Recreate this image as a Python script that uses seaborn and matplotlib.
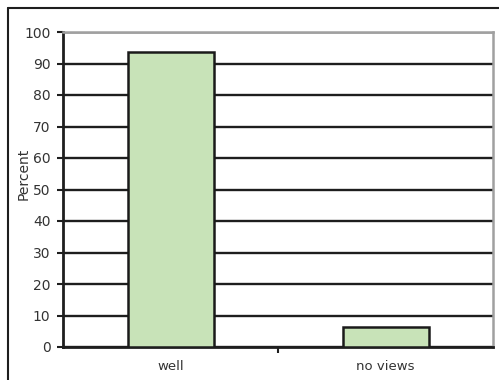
import matplotlib
matplotlib.use("Agg")
import matplotlib.pyplot as plt
from matplotlib.lines import Line2D
import seaborn as sns
import pandas as pd

categories = ["well", "no views"]
percent = [93.5, 6.5]
y_ticks = [0, 10, 20, 30, 40, 50, 60, 70, 80, 90, 100]

sns.set_style("white")
plt.rcParams["font.family"] = ["DejaVu Sans"]

df = pd.DataFrame({"category": categories, "percent": percent})

fig = plt.figure(figsize=(4.99, 3.80), dpi=100)
ax = fig.add_axes([63 / 499, 1 - 347 / 380, 430 / 499, 315 / 380])

sns.barplot(data=df, x="category", y="percent", color="#c8e3b8",
            saturation=1, width=0.40, edgecolor="#1a1a1a", linewidth=1.8,
            ax=ax, zorder=3)

ax.set_xlim(-0.5, 1.5)
ax.set_ylim(0, 100)
ax.set_yticks(y_ticks)
ax.set_yticklabels([str(v) for v in y_ticks])

# horizontal grid in heavy dark lines, top one gray like the frame
ax.set_axisbelow(True)
ax.yaxis.grid(True, color="#1e1e1e", linewidth=1.7)
ax.get_ygridlines()[-1].set_color("#a0a0a0")
ax.get_ygridlines()[-1].set_linewidth(1.8)

# category ticks sit between bars
ax.set_xticks([0.5], minor=False)
ax.set_xticklabels([""])
ax.set_xticks([0, 1], minor=True)
ax.set_xticklabels(categories, minor=True)
ax.tick_params(axis="x", which="minor", length=0, pad=9,
               labelsize=9.5, labelcolor="#333333")
ax.tick_params(axis="x", which="major", direction="out", length=4,
               width=1.5, color="#1e1e1e", bottom=True)
ax.tick_params(axis="y", direction="out", length=4, width=1.5,
               color="#1e1e1e", left=True, pad=5,
               labelsize=10, labelcolor="#333333")

ax.set_xlabel("")
ax.set_ylabel("Percent", fontsize=10, color="#333333")
ax.yaxis.set_label_coords(-0.075, 0.55)

for side in ("left", "bottom"):
    ax.spines[side].set_color("#1e1e1e")
    ax.spines[side].set_linewidth(2.0)
for side in ("top", "right"):
    ax.spines[side].set_visible(True)
    ax.spines[side].set_color("#a0a0a0")
    ax.spines[side].set_linewidth(1.8)

# outer chart frame (top and left edges)
fig.add_artist(Line2D([8 / 499, 1.0], [1 - 8 / 380, 1 - 8 / 380],
                      transform=fig.transFigure, color="#1e1e1e", linewidth=1.5))
fig.add_artist(Line2D([8 / 499, 8 / 499], [0.0, 1 - 8 / 380],
                      transform=fig.transFigure, color="#1e1e1e", linewidth=1.5))

fig.savefig("out.png", dpi=100)
